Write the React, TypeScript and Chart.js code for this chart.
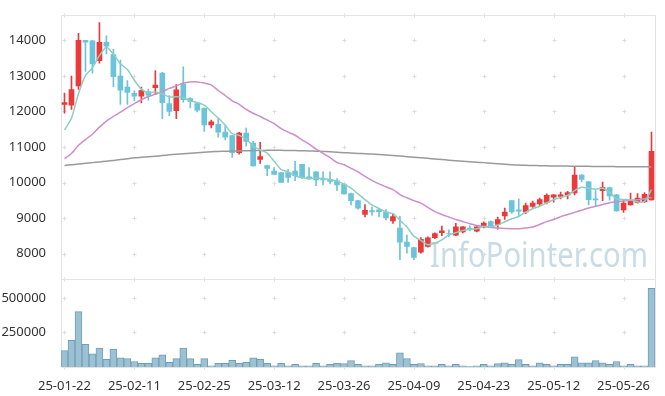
import React, { useEffect, useRef } from 'react';
import { Chart, registerables } from 'chart.js';

Chart.register(...registerables);

const dates = [
  '25-01-22', '25-01-23', '25-01-24', '25-01-31', '25-02-03', '25-02-04', '25-02-05', '25-02-06', '25-02-07', '25-02-10',
  '25-02-11', '25-02-12', '25-02-13', '25-02-14', '25-02-17', '25-02-18', '25-02-19', '25-02-20', '25-02-21', '25-02-24',
  '25-02-25', '25-02-26', '25-02-27', '25-02-28', '25-03-04', '25-03-05', '25-03-06', '25-03-07', '25-03-10', '25-03-11',
  '25-03-12', '25-03-13', '25-03-14', '25-03-17', '25-03-18', '25-03-19', '25-03-20', '25-03-21', '25-03-24', '25-03-25',
  '25-03-26', '25-03-27', '25-03-28', '25-03-31', '25-04-01', '25-04-02', '25-04-03', '25-04-04', '25-04-07', '25-04-08',
  '25-04-09', '25-04-10', '25-04-11', '25-04-14', '25-04-15', '25-04-16', '25-04-17', '25-04-18', '25-04-21', '25-04-22',
  '25-04-23', '25-04-24', '25-04-25', '25-04-28', '25-04-29', '25-04-30', '25-05-02', '25-05-07', '25-05-08', '25-05-09',
  '25-05-12', '25-05-13', '25-05-14', '25-05-15', '25-05-16', '25-05-19', '25-05-20', '25-05-21', '25-05-22', '25-05-23',
  '25-05-26', '25-05-27', '25-05-28', '25-05-29', '25-05-30',
];

const opens = [
  12200, 12180, 12720, 14000, 13990, 13430, 13950, 13600, 13000, 12690,
  12510, 12430, 12560, 12670, 13080, 12220, 12020, 12770, 12360, 12220,
  12090, 11620, 11640, 11420, 11320, 10840, 11390, 11110, 10650, 10480,
  10320, 10280, 10280, 10320, 10510, 10160, 10300, 10090, 10090, 10050,
  9950, 9690, 9490, 9100, 9210, 9230, 9170, 8920, 8720, 8320,
  8170, 8040, 8200, 8450, 8590, 8560, 8520, 8610, 8720, 8630,
  8750, 8900, 8820, 9060, 9490, 9230, 9170, 9330, 9400, 9440,
  9590, 9610, 9650, 9710, 10210, 10020, 9540, 9770, 9860, 9650,
  9230, 9370, 9440, 9460, 9510,
];

const highs = [
  12520, 13000, 14200, 14000, 14000, 14500, 14130, 13750, 13450, 12870,
  12580, 12690, 12630, 13150, 13100, 12450, 12760, 13260, 12390, 12250,
  12100, 11760, 11800, 11600, 11330, 11410, 11530, 11160, 11130, 10490,
  10420, 10290, 10370, 10600, 10510, 10420, 10310, 10300, 10300, 10110,
  9960, 9700, 9500, 9380, 9310, 9260, 9240, 9130, 9050, 8520,
  8180, 8450, 8470, 8580, 8770, 8670, 8850, 8760, 8780, 8760,
  8890, 8920, 9030, 9280, 9490, 9540, 9420, 9480, 9560, 9680,
  9660, 9730, 9750, 10430, 10220, 10030, 9770, 10010, 9870, 9660,
  9490, 9700, 9690, 9720, 11420,
];

const lows = [
  11950, 12060, 12620, 13130, 13080, 13360, 13620, 12700, 12200, 12200,
  12300, 12240, 12320, 12470, 11800, 11880, 11800, 12260, 12100, 11990,
  11440, 11540, 11280, 11200, 10710, 10800, 11020, 10460, 10540, 10190,
  10230, 10000, 10000, 10050, 10110, 10090, 9910, 9930, 9960, 9770,
  9670, 9370, 9250, 9030, 9080, 9030, 8950, 8850, 7830, 8010,
  7830, 8010, 8180, 8420, 8500, 8480, 8500, 8580, 8640, 8610,
  8720, 8720, 8690, 8960, 9130, 9050, 9120, 9300, 9350, 9400,
  9450, 9540, 9540, 9650, 10020, 9370, 9350, 9490, 9500, 9190,
  9160, 9360, 9420, 9440, 9500,
];

const closes = [
  12250, 12620, 14000, 13950, 13340, 13950, 13840, 12980, 12600, 12540,
  12430, 12590, 12460, 12740, 12250, 12000, 12610, 12330, 12280, 12040,
  11620, 11710, 11420, 11280, 10840, 11390, 11160, 10470, 10730, 10400,
  10230, 10000, 10140, 10190, 10140, 10100, 10070, 10070, 10030, 9930,
  9680, 9490, 9280, 9220, 9170, 9180, 9000, 9040, 8320, 8200,
  7890, 8400, 8440, 8560, 8640, 8550, 8750, 8750, 8700, 8750,
  8860, 8730, 8960, 9170, 9170, 9190, 9350, 9420, 9520, 9640,
  9650, 9650, 9720, 10210, 10090, 9520, 9510, 9860, 9620, 9200,
  9420, 9470, 9560, 9670, 10880,
];

const volumes = [
  118000, 192000, 400000, 164000, 95000, 137000, 56000, 130000, 67000, 60000,
  40000, 26000, 26000, 67000, 88000, 33000, 60000, 137000, 60000, 19000,
  60000, 9000, 26000, 26000, 49000, 26000, 33000, 67000, 56000, 26000,
  9000, 26000, 9000, 19000, 9000, 9000, 26000, 9000, 19000, 26000,
  24000, 46000, 19000, 9000, 9000, 19000, 30000, 19000, 102000, 60000,
  19000, 24000, 9000, 9000, 19000, 9000, 19000, 9000, 3000, 9000,
  19000, 9000, 24000, 30000, 19000, 53000, 19000, 9000, 30000, 19000,
  9000, 19000, 19000, 74000, 30000, 30000, 46000, 30000, 19000, 40000,
  9000, 19000, 9000, 9000, 569000,
];

const ma5 = [
  11480, 11810, 12500, 13010, 13232, 13572, 13816, 13612, 13342, 13182,
  12878, 12628, 12524, 12552, 12494, 12408, 12412, 12386, 12294, 12252,
  12176, 11996, 11814, 11614, 11374, 11328, 11218, 11028, 10918, 10830,
  10598, 10366, 10300, 10192, 10140, 10114, 10128, 10114, 10082, 10040,
  9956, 9840, 9682, 9520, 9368, 9268, 9170, 9122, 8942, 8748,
  8490, 8370, 8250, 8298, 8386, 8518, 8588, 8650, 8678, 8700,
  8762, 8758, 8800, 8894, 8978, 9044, 9168, 9260, 9330, 9424,
  9516, 9576, 9636, 9774, 9864, 9838, 9810, 9838, 9720, 9542,
  9522, 9514, 9454, 9464, 9800,
];

const ma20 = [
  10670, 10815, 11050, 11210, 11360, 11560, 11730, 11860, 11980, 12110,
  12220, 12330, 12420, 12490, 12560, 12650, 12720, 12800, 12830, 12830,
  12800, 12750, 12590, 12450, 12300, 12200, 12060, 11950, 11860, 11760,
  11660, 11520, 11420, 11330, 11200, 11080, 10940, 10820, 10700, 10560,
  10500, 10400, 10300, 10170, 10060, 9960, 9880, 9800, 9660, 9570,
  9490, 9420, 9300, 9180, 9100, 9030, 8960, 8900, 8840, 8790,
  8760, 8740, 8720, 8705, 8700, 8700, 8720, 8750, 8820, 8900,
  8960, 9040, 9100, 9160, 9220, 9280, 9330, 9380, 9430, 9460,
  9480, 9500, 9515, 9540, 9580,
];

const ma120 = [
  10480, 10500, 10520, 10540, 10560, 10580, 10600, 10620, 10645, 10670,
  10695, 10710, 10725, 10740, 10760, 10780, 10795, 10810, 10825, 10840,
  10855, 10865, 10875, 10880, 10885, 10890, 10895, 10900, 10903, 10905,
  10905, 10905, 10903, 10900, 10895, 10890, 10882, 10875, 10865, 10852,
  10840, 10830, 10820, 10810, 10800, 10790, 10775, 10760, 10745, 10728,
  10710, 10695, 10680, 10665, 10648, 10630, 10615, 10600, 10585, 10572,
  10560, 10545, 10530, 10515, 10500, 10490, 10485, 10480, 10475, 10470,
  10466, 10464, 10462, 10460, 10458, 10455, 10453, 10451, 10449, 10447,
  10445, 10444, 10443, 10442, 10440,
];

const priceTicks = [8000, 9000, 10000, 11000, 12000, 13000, 14000];
const volumeTicks = [250000, 500000];
const watermark = 'InfoPointer.com';

const UP = '#ec3a3a';
const DOWN = '#6cc3dc';
const FONT = '"Noto Sans", "DejaVu Sans", sans-serif';

const framePlugin = {
  id: 'frame',
  beforeDatasetsDraw(chart: any) {
    const { ctx, chartArea: a, scales } = chart;
    const xs = scales.x;
    const ys = scales.y;
    const vs = scales.vol;
    ctx.save();
    // watermark, squeezed horizontally to the reference width
    ctx.font = `34px ${FONT}`;
    const w = ctx.measureText(watermark).width;
    ctx.fillStyle = '#c8dce6';
    ctx.textBaseline = 'alphabetic';
    ctx.textAlign = 'left';
    ctx.translate(430, 267);
    ctx.scale(218 / w, 1);
    ctx.fillText(watermark, 0, 0);
    ctx.setTransform(1, 0, 0, 1, 0, 0);

    // plus markers
    ctx.strokeStyle = '#dddddd';
    ctx.lineWidth = 1;
    const px: number[] = [];
    dates.forEach((_, i) => {
      if (i % 10 === 0) px.push(Math.round(xs.getPixelForValue(i)) + 0.5);
    });
    const py: number[] = [
      ...priceTicks.map((t) => ys.getPixelForValue(t)),
      ...volumeTicks.map((t) => vs.getPixelForValue(t)),
      a.top, ys.bottom, a.bottom,
    ].map((p) => Math.round(p) + 0.5);
    ctx.beginPath();
    for (const x of px) {
      for (const y of py) {
        ctx.moveTo(x - 2, y);
        ctx.lineTo(x + 2, y);
        ctx.moveTo(x, y - 2);
        ctx.lineTo(x, y + 2);
      }
    }
    ctx.stroke();

    // frame
    ctx.strokeStyle = '#e3e3e3';
    const l = Math.round(a.left) + 0.5;
    const r = Math.round(a.right) + 0.5;
    const t = Math.round(a.top) + 0.5;
    const b = Math.round(a.bottom) + 0.5;
    const m = Math.round(ys.bottom) + 0.5;
    ctx.beginPath();
    ctx.moveTo(l, t); ctx.lineTo(r, t); ctx.lineTo(r, b); ctx.lineTo(l, b); ctx.closePath();
    ctx.moveTo(l, m); ctx.lineTo(r, m);
    ctx.stroke();
    ctx.restore();
  },
};

export default function App() {
  const ref = useRef<HTMLCanvasElement | null>(null);

  useEffect(() => {
    if (!ref.current) return;
    const colors = closes.map((c, i) => (c >= opens[i] ? UP : DOWN));
    const chart = new Chart(ref.current, {
      type: 'bar',
      data: {
        labels: dates,
        datasets: [
          {
            type: 'line', label: 'MA5', data: ma5, yAxisID: 'y',
            borderColor: '#8ccfc1', borderWidth: 1.5, pointRadius: 0, tension: 0.2, order: 0,
          } as any,
          {
            type: 'line', label: 'MA20', data: ma20, yAxisID: 'y',
            borderColor: '#cc8fc8', borderWidth: 1.5, pointRadius: 0, tension: 0.2, order: 0,
          } as any,
          {
            type: 'line', label: 'MA120', data: ma120, yAxisID: 'y',
            borderColor: '#9a9a9a', borderWidth: 1.5, pointRadius: 0, tension: 0.2, order: 0,
          } as any,
          {
            label: 'body', data: opens.map((o, i) => [o, closes[i]]), yAxisID: 'y',
            backgroundColor: colors, borderWidth: 0, barThickness: 5, grouped: false, order: 1,
          } as any,
          {
            label: 'wick', data: lows.map((lo, i) => [lo, highs[i]]), yAxisID: 'y',
            backgroundColor: colors, borderWidth: 0, barThickness: 1, grouped: false, order: 2,
          } as any,
          {
            label: 'volume', data: volumes, yAxisID: 'vol',
            backgroundColor: '#9cc1d3', borderColor: '#6f9fb8', borderWidth: 1,
            barPercentage: 1, categoryPercentage: 1, grouped: false, order: 3,
          } as any,
        ],
      },
      options: {
        animation: false,
        responsive: false,
        layout: { padding: { top: 10, right: 10, left: 0, bottom: 0 } },
        plugins: { legend: { display: false }, tooltip: { enabled: false } },
        scales: {
          x: {
            type: 'category',
            offset: true,
            grid: { display: false },
            border: { display: false },
            ticks: {
              autoSkip: false, maxRotation: 0, minRotation: 0, padding: 3,
              color: '#333', font: { family: FONT, size: 13 },
              callback: (_v: any, i: number) => (i % 10 === 0 ? dates[i] : ''),
            },
            afterFit: (s: any) => { s.height = 29; },
          },
          vol: {
            type: 'linear', position: 'left', stack: 'panels', stackWeight: 89,
            min: 0, max: 635000,
            grid: { display: false }, border: { display: false },
            ticks: {
              color: '#333', font: { family: FONT, size: 13 }, padding: 7,
              callback: (v: any) => String(v),
            },
            afterBuildTicks: (s: any) => { s.ticks = volumeTicks.map((v) => ({ value: v })); },
            afterFit: (s: any) => { s.width = 61; },
          },
          y: {
            type: 'linear', position: 'left', stack: 'panels', stackWeight: 268,
            min: 7278, max: 14722,
            grid: { display: false }, border: { display: false },
            ticks: {
              color: '#333', font: { family: FONT, size: 13 }, padding: 7,
              callback: (v: any) => String(v),
            },
            afterBuildTicks: (s: any) => { s.ticks = priceTicks.map((v) => ({ value: v })); },
            afterFit: (s: any) => { s.width = 61; },
          },
        },
      } as any,
      plugins: [framePlugin],
    });
    return () => chart.destroy();
  }, []);

  return (
    <div style={{ position: 'absolute', left: 0, top: 0, width: 665, height: 396, background: '#fff' }}>
      <canvas ref={ref} width={665} height={396} style={{ width: 665, height: 396, display: 'block' }} />
    </div>
  );
}
